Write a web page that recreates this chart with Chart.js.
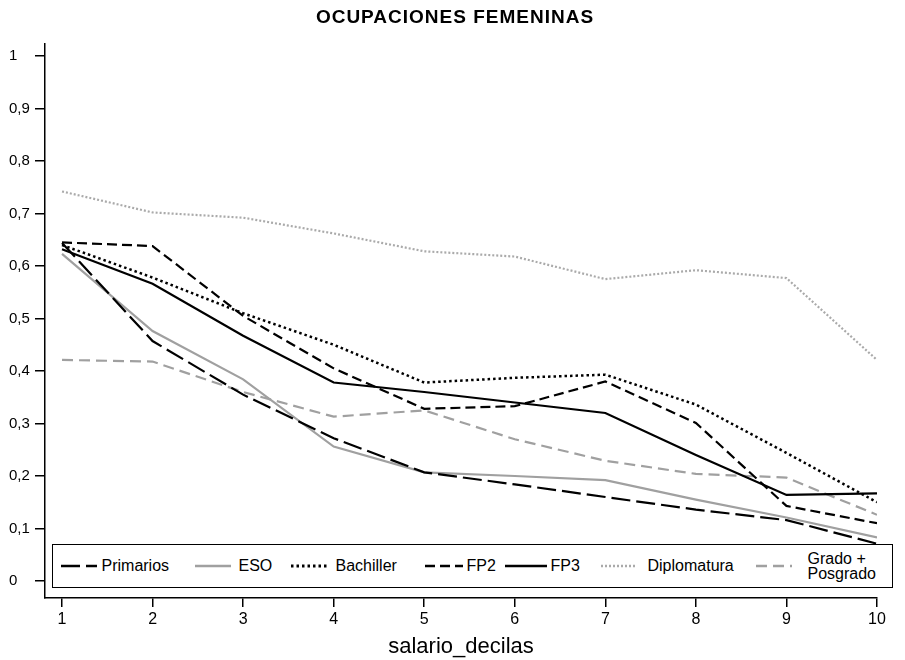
<!DOCTYPE html>
<html lang="es">
<head>
<meta charset="utf-8">
<title>Ocupaciones femeninas</title>
<script src="https://cdn.jsdelivr.net/npm/chart.js@4.4.1/dist/chart.umd.min.js"></script>
<style>
  body { margin: 0; background: #fff; }
  #wrap { position: relative; width: 905px; height: 660px; }
  #legend {
    position: absolute; left: 52px; top: 544px; width: 839px; height: 42px;
    border: 1.5px solid #000; background: #fff;
    font: 16px "Liberation Sans", Arial, sans-serif; color: #000;
  }
  #legend .item { position: absolute; top: 0; height: 42px; display: flex; align-items: center; }
  #legend .two { line-height: 15px; }
</style>
</head>
<body>
<div id="wrap">
  <canvas id="myChart" width="905" height="660"></canvas>
  <div id="legend"></div>
</div>
<script>
// salary deciles on the x axis
const deciles = [1, 2, 3, 4, 5, 6, 7, 8, 9, 10];
const yTicks = [0, 0.1, 0.2, 0.3, 0.4, 0.5, 0.6, 0.7, 0.8, 0.9, 1];

// share per education level
const primarios   = [0.644, 0.457, 0.355, 0.272, 0.207, 0.184, 0.160, 0.136, 0.116, 0.071];
const eso         = [0.623, 0.476, 0.384, 0.256, 0.207, 0.200, 0.192, 0.155, 0.121, 0.083];
const bachiller   = [0.640, 0.578, 0.510, 0.450, 0.378, 0.387, 0.393, 0.336, 0.244, 0.150];
const fp2         = [0.645, 0.638, 0.505, 0.405, 0.328, 0.333, 0.380, 0.301, 0.143, 0.110];
const fp3         = [0.632, 0.566, 0.467, 0.378, 0.360, 0.340, 0.320, 0.240, 0.164, 0.167];
const diplomatura = [0.742, 0.702, 0.692, 0.662, 0.628, 0.618, 0.575, 0.592, 0.577, 0.421];
const grado       = [0.421, 0.418, 0.360, 0.313, 0.325, 0.270, 0.229, 0.204, 0.197, 0.126];

const seriesNames = ['Primarios', 'ESO', 'Bachiller', 'FP2', 'FP3', 'Diplomatura', 'Grado +\nPosgrado'];
const seriesData = [primarios, eso, bachiller, fp2, fp3, diplomatura, grado];

// line look per series
const styles = [
    { color: '#000000', width: 2.2, dash: [19, 6] },
    { color: '#a0a0a0', width: 2.2, dash: [] },
    { color: '#000000', width: 2.5, dash: [2.5, 3] },
    { color: '#000000', width: 2.2, dash: [10, 5] },
    { color: '#000000', width: 2.2, dash: [] },
    { color: '#aaaaaa', width: 2.2, dash: [2, 2] },
    { color: '#a0a0a0', width: 2.2, dash: [11, 6] }
];

// legend placement inside the box (sample left, sample width, text left), page px
const legendSlots = [
    [61, 36, 102], [195, 36, 239], [291, 36, 336], [425, 38, 467],
    [505, 42, 551], [601, 36, 648], [756, 36, 808]
];

const datasets = seriesNames.map((name, i) => ({
    label: name.replace('\n', ' '),
    data: deciles.map((d, j) => ({ x: d, y: seriesData[i][j] })),
    borderColor: styles[i].color,
    borderWidth: styles[i].width,
    borderDash: styles[i].dash,
    pointRadius: 0,
    tension: 0,
    fill: false
}));

// slight tracking and offset for the title, like the original
const titleSpacing = {
    id: 'titleSpacing',
    beforeDraw(chart) {
        const tb = chart.titleBlock;
        if (!tb || tb._spaced) return;
        const orig = tb.draw.bind(tb);
        tb.draw = function () {
            const ctx = this.ctx;
            ctx.save();
            ctx.translate(12, 0);
            ctx.letterSpacing = '1px';
            orig();
            ctx.restore();
        };
        tb._spaced = true;
    }
};

const fmtY = (v) => (v === 0 ? '0' : v === 1 ? '1' : v.toFixed(1).replace('.', ','));

new Chart(document.getElementById('myChart').getContext('2d'), {
    type: 'line',
    data: { datasets },
    plugins: [titleSpacing],
    options: {
        responsive: false,
        animation: false,
        layout: { padding: { left: 9, right: 28, top: 0, bottom: 0 } },
        plugins: {
            legend: { display: false },
            tooltip: { enabled: false },
            title: {
                display: true,
                text: 'OCUPACIONES FEMENINAS',
                color: '#000',
                font: { family: '"Liberation Sans", Arial, sans-serif', size: 19, weight: 'bold' },
                padding: { top: 6, bottom: 14.6 }
            }
        },
        scales: {
            x: {
                type: 'linear',
                min: 0.812,
                max: 10,
                afterBuildTicks: (s) => { s.ticks = deciles.map(v => ({ value: v })); },
                afterFit: (s) => { s.height = 62; },
                ticks: {
                    color: '#000',
                    padding: 3,
                    font: { family: '"Liberation Sans", Arial, sans-serif', size: 16 },
                    callback: (v) => String(v)
                },
                grid: { drawOnChartArea: false, drawTicks: true, tickLength: 9, color: '#000', lineWidth: 1.5 },
                border: { display: true, color: '#000', width: 1.5 },
                title: {
                    display: true,
                    text: 'salario_decilas',
                    color: '#000',
                    font: { family: '"Liberation Sans", Arial, sans-serif', size: 22 },
                    padding: { top: 0, bottom: 0 }
                }
            },
            y: {
                min: -0.0324,
                max: 1.024,
                afterBuildTicks: (s) => { s.ticks = yTicks.map(v => ({ value: v })); },
                afterFit: (s) => { s.width = 36; },
                ticks: {
                    color: '#000',
                    crossAlign: 'far',
                    font: { family: '"Liberation Sans", Arial, sans-serif', size: 15 },
                    callback: (v) => fmtY(v)
                },
                grid: { drawOnChartArea: false, drawTicks: true, tickLength: 10, color: '#000', lineWidth: 1.5 },
                border: { display: true, color: '#000', width: 1.5 }
            }
        }
    }
});

// legend box drawn over the bottom of the plot
const legendEl = document.getElementById('legend');
const boxLeft = 52 + 1.5;
seriesNames.forEach((name, i) => {
    const [sx, sw, tx] = legendSlots[i];
    const st = styles[i];
    const sample = document.createElement('div');
    sample.className = 'item';
    sample.style.left = (sx - boxLeft) + 'px';
    sample.innerHTML = `<svg width="${sw}" height="6"><line x1="0" y1="3" x2="${sw}" y2="3" stroke="${st.color}" stroke-width="${st.width + 0.3}" stroke-dasharray="${st.dash.join(' ')}"/></svg>`;
    legendEl.appendChild(sample);

    const text = document.createElement('div');
    text.className = 'item';
    text.style.left = (tx - boxLeft) + 'px';
    const span = document.createElement('span');
    if (name.includes('\n')) {
        span.className = 'two';
        span.innerHTML = name.split('\n').join('<br>');
    } else {
        span.textContent = name;
    }
    text.appendChild(span);
    legendEl.appendChild(text);
});
</script>
</body>
</html>
